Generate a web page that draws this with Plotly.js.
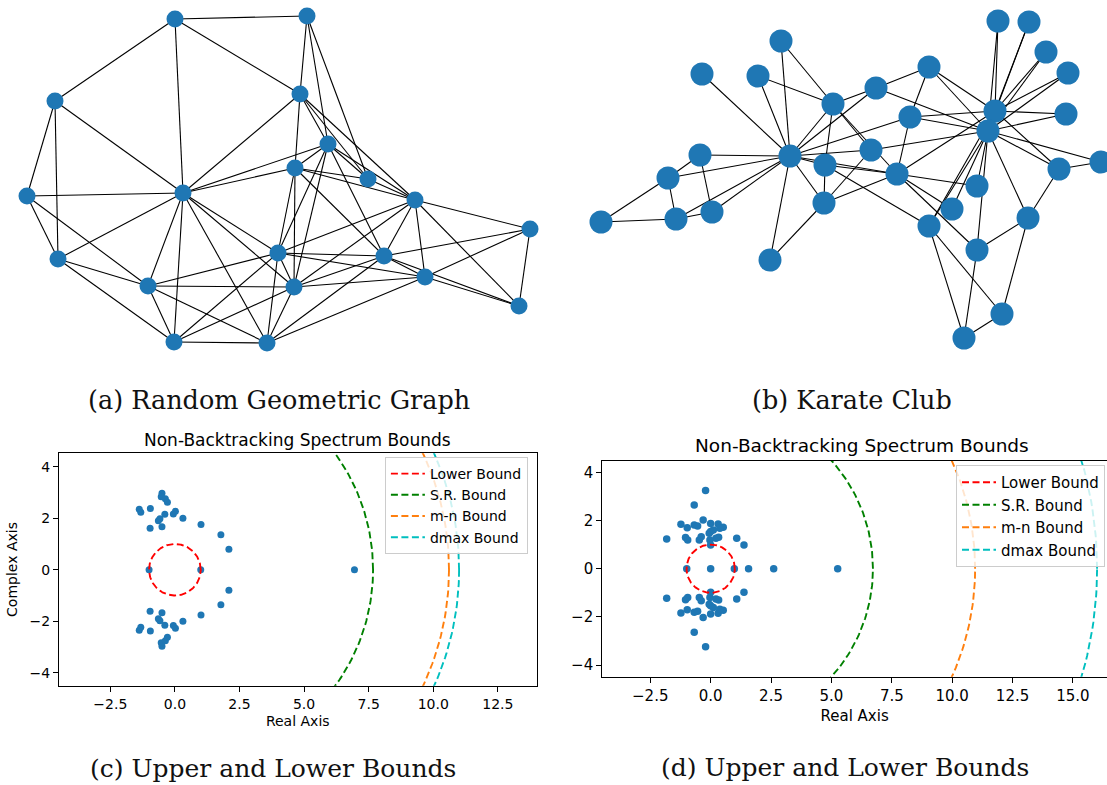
<!DOCTYPE html>
<html>
<head>
<meta charset="utf-8">
<script src="https://cdn.plot.ly/plotly-3.0.1.min.js"></script>
<style>
html,body{margin:0;padding:0;background:#fff;overflow:hidden;}
#chart{width:1107px;height:785px;}
</style>
</head>
<body>
<div id="chart"></div>
<script>
// ---------- (a) Random Geometric Graph : node layout positions ----------
const rggX = [175,307,55,300,328,295,368,183,27,415,530,278,384,58,425,148,294,519,174,267];
const rggY = [19,16,101,94,144,168,179,193,196,200,229,253,256,259,277,286,287,306,342,343];
const rggEdges = [
 [0,1],[0,2],[0,3],[0,7],
 [1,3],[1,4],[1,6],
 [2,8],[2,13],[2,7],
 [8,7],[8,13],[8,15],
 [13,7],[13,15],[13,18],
 [7,3],[7,4],[7,5],[7,15],[7,18],[7,19],[7,16],[7,11],
 [15,11],[15,16],[15,18],[15,19],
 [18,19],[18,11],[18,16],
 [19,11],[19,16],[19,12],[19,14],
 [11,5],[11,4],[11,9],[11,12],[11,14],[11,16],
 [16,5],[16,4],[16,9],[16,12],[16,14],
 [5,3],[5,4],[5,6],[5,9],[5,12],
 [4,3],[4,6],[4,9],[4,12],
 [3,6],[3,9],
 [6,9],
 [9,12],[9,14],[9,10],[9,17],
 [10,12],[10,14],[10,17],
 [12,14],[12,17],
 [14,17]
];

// ---------- (b) Karate Club : node layout positions ----------
const karX = [998,1029,781,1046,702,758,1068,929,876,833,995,1066,910,988,700,790,871,825,1101,1059,668,897,977,824,712,952,601,676,929,1028,977,770,1002,964];
const karY = [21,22,41,52,74,76,73,67,88,104,111,114,117,131,155,156,150,165,162,169,178,174,186,203,212,209,222,219,226,218,250,260,314,338];
const karEdges = [
 [15,4],[15,5],[15,2],[15,9],[15,8],[15,12],[15,16],[15,17],[15,21],[15,14],[15,20],[15,27],[15,24],[15,31],[15,23],
 [2,9],[5,9],
 [9,8],[9,17],[9,21],[9,16],
 [8,7],[8,13],
 [7,12],[7,10],[7,13],
 [12,10],[12,13],[12,21],
 [16,13],[16,23],
 [17,23],[17,21],[17,28],
 [23,21],[23,31],
 [21,10],[21,22],[21,25],[21,30],
 [14,20],[14,24],
 [20,26],[20,27],
 [27,26],[27,24],
 [10,0],[10,1],[10,3],[10,6],[10,11],[10,19],[10,28],[10,13],
 [13,0],[13,1],[13,3],[13,6],[13,11],[13,18],[13,19],[13,29],[13,30],[13,22],[13,25],[13,28],
 [18,19],[19,29],[29,30],[29,32],[30,33],[28,33],[28,32],[32,33]
];

// ---------- (c) spectrum, random geometric graph ----------
const eigReC = [-1.38,-1.32,-0.95,-0.50,-0.53,-0.37,-0.29,-0.39,-0.06,0.02,-0.64,-0.58,-0.96,-0.50,0.31,1.01,1.78,2.09,
                -1.38,-1.32,-0.95,-0.50,-0.53,-0.37,-0.29,-0.39,-0.06,0.02,-0.64,-0.58,-0.96,-0.50,0.31,1.01,1.78,2.09,
                -1.00,1.00,6.95];
const eigImC = [2.35,2.23,2.38,2.97,2.83,2.76,2.62,2.15,2.16,2.27,1.90,1.98,1.61,1.67,2.00,1.76,1.36,0.80,
                -2.35,-2.23,-2.38,-2.97,-2.83,-2.76,-2.62,-2.15,-2.16,-2.27,-1.90,-1.98,-1.61,-1.67,-2.00,-1.76,-1.36,-0.80,
                0,0,0];
const boundNames = ["Lower Bound","S.R. Bound","m-n Bound","dmax Bound"];
const boundColors = ["#ff0000","#008000","#ff7f0e","#00bfbf"];
const boundsC = [1.0, 7.67, 10.61, 11.0];

// ---------- (d) spectrum, karate club ----------
const eigReD = [-0.21,-0.68,-1.23,-0.97,-0.68,-0.54,-0.31,0.00,0.31,0.52,0.38,0.00,-0.06,0.11,0.22,0.33,0.00,-0.03,-1.82,-1.04,-0.95,-0.47,-0.39,1.08,1.38,
                -0.21,-0.68,-1.23,-0.97,-0.68,-0.54,-0.31,0.00,0.31,0.52,0.38,0.00,-0.06,0.11,0.22,0.33,0.00,-0.03,-1.82,-1.04,-0.95,-0.47,-0.39,1.08,1.38,
                -0.99,0.00,0.98,1.57,2.61,5.26];
const eigImD = [3.24,2.64,1.84,1.70,1.81,1.77,2.02,1.88,1.85,1.72,1.68,1.54,1.47,1.61,1.26,1.30,0.98,1.19,1.23,1.29,1.19,1.19,1.33,1.26,0.98,
                -3.24,-2.64,-1.84,-1.70,-1.81,-1.77,-2.02,-1.88,-1.85,-1.72,-1.68,-1.54,-1.47,-1.61,-1.26,-1.30,-0.98,-1.19,-1.23,-1.29,-1.19,-1.19,-1.33,-1.26,-0.98,
                0,0,0,0,0,0];
const boundsD = [1.0, 6.72, 10.95, 16.0];

const xTickVals = [-2.5,0,2.5,5,7.5,10,12.5,15];
const yTickVals = [-4,-2,0,2,4];

// ---------- helpers ----------
const W = 1107, H = 785;
const px = v => v / W;
const py = v => 1 - v / H;
const BLUE = "#1f77b4";

function edgeTrace(xs, ys, edges, xa, ya){
  const ex = [], ey = [];
  edges.forEach(([a,b]) => { ex.push(xs[a], xs[b], null); ey.push(ys[a], ys[b], null); });
  return {type:"scatter", mode:"lines", x:ex, y:ey, xaxis:xa, yaxis:ya,
          line:{color:"#000", width:1.1}, hoverinfo:"skip", showlegend:false};
}
function nodeTrace(xs, ys, size, xa, ya){
  return {type:"scatter", mode:"markers", x:xs, y:ys, xaxis:xa, yaxis:ya,
          marker:{color:BLUE, size:size, line:{width:0}}, showlegend:false, cliponaxis:false};
}
function boundTraces(radii, xa, ya, legend){
  const out = [];
  radii.forEach((r, i) => {
    const cx = [], cy = [];
    for (let k = 0; k <= 360; k++) { const t = k * Math.PI / 180; cx.push(r*Math.cos(t)); cy.push(r*Math.sin(t)); }
    out.push({type:"scatter", mode:"lines", x:cx, y:cy, xaxis:xa, yaxis:ya, name:boundNames[i],
              legend:legend, line:{color:boundColors[i], width:1.9, dash:"7px,3.5px"}, hoverinfo:"skip"});
  });
  return out;
}

const traces = [
  edgeTrace(rggX, rggY, rggEdges, "x", "y"),
  nodeTrace(rggX, rggY, 17, "x", "y"),
  edgeTrace(karX, karY, karEdges, "x2", "y2"),
  nodeTrace(karX, karY, 23, "x2", "y2"),
  {type:"scatter", mode:"markers", x:eigReC, y:eigImC, xaxis:"x3", yaxis:"y3",
   marker:{color:BLUE, size:7}, showlegend:false},
  ...boundTraces(boundsC, "x3", "y3", "legend"),
  {type:"scatter", mode:"markers", x:eigReD, y:eigImD, xaxis:"x4", yaxis:"y4",
   marker:{color:BLUE, size:7.5}, showlegend:false},
  ...boundTraces(boundsD, "x4", "y4", "legend2")
];

const FONT = "DejaVu Sans";
function numAxis(extra, fs){
  return Object.assign({
    showline:true, linecolor:"#000", linewidth:1, showgrid:false, zeroline:false,
    ticks:"outside", ticklen:5, tickwidth:1, tickcolor:"#000",
    tickfont:{family:FONT, size:fs, color:"#000"}, fixedrange:true
  }, extra);
}
const hidden = {visible:false, showgrid:false, zeroline:false, fixedrange:true};

const layout = {
  width:W, height:H, margin:{l:0,r:0,t:0,b:0},
  paper_bgcolor:"#fff", plot_bgcolor:"rgba(0,0,0,0)",
  showlegend:true,
  xaxis: Object.assign({domain:[0, px(560)], range:[0,560], anchor:"y"}, hidden),
  yaxis: Object.assign({domain:[py(370), 1], range:[370,0], anchor:"x"}, hidden),
  xaxis2: Object.assign({domain:[px(560), 1], range:[560,1107], anchor:"y2"}, hidden),
  yaxis2: Object.assign({domain:[py(370), 1], range:[370,0], anchor:"x2"}, hidden),
  xaxis3: numAxis({domain:[px(58.9), px(536.6)], range:[-4.49,14.0], anchor:"y3", mirror:true,
    tickvals:xTickVals, tickformat:".1f",
    title:{text:"Real Axis", font:{family:FONT, size:14, color:"#000"}, standoff:5}}, 14),
  yaxis3: numAxis({domain:[py(685.7), py(453.3)], range:[-4.5,4.52], anchor:"x3", mirror:true,
    tickvals:yTickVals, tickformat:"d",
    title:{text:"Complex Axis", font:{family:FONT, size:14, color:"#000"}, standoff:8}}, 14),
  xaxis4: numAxis({domain:[px(602.2), 1], range:[-4.49,16.41], anchor:"y4", mirror:true,
    tickvals:xTickVals, tickformat:".1f",
    title:{text:"Real Axis", font:{family:FONT, size:15, color:"#000"}, standoff:6}}, 15),
  yaxis4: numAxis({domain:[py(676.7), py(460.7)], range:[-4.48,4.48], anchor:"x4", mirror:false,
    tickvals:yTickVals, tickformat:"d"}, 15),
  legend:{x:px(384.9), y:py(457), xanchor:"left", yanchor:"top", itemwidth:34,
    bgcolor:"rgba(255,255,255,0.8)", bordercolor:"#cccccc", borderwidth:1,
    font:{family:FONT, size:14, color:"#000"}, tracegroupgap:0},
  legend2:{x:px(956), y:py(465), xanchor:"left", yanchor:"top", itemwidth:34,
    bgcolor:"rgba(255,255,255,0.8)", bordercolor:"#cccccc", borderwidth:1,
    font:{family:FONT, size:15, color:"#000"}, tracegroupgap:0},
  annotations:[
    {text:"Non-Backtracking Spectrum Bounds", xref:"paper", yref:"paper", x:px(297.7), y:py(439.5), xanchor:"center", yanchor:"middle",
     showarrow:false, font:{family:FONT, size:17, color:"#000"}},
    {text:"Non-Backtracking Spectrum Bounds", xref:"paper", yref:"paper", x:px(861.8), y:py(445), xanchor:"center", yanchor:"middle",
     showarrow:false, font:{family:FONT, size:18.5, color:"#000"}},
    {text:"(a) Random Geometric Graph", xref:"paper", yref:"paper", x:px(279.2), y:py(400), xanchor:"center", yanchor:"middle",
     showarrow:false, font:{family:"DejaVu Serif", size:25.5, color:"#111"}},
    {text:"(b) Karate Club", xref:"paper", yref:"paper", x:px(851.7), y:py(400), xanchor:"center", yanchor:"middle",
     showarrow:false, font:{family:"DejaVu Serif", size:25.5, color:"#111"}},
    {text:"(c) Upper and Lower Bounds", xref:"paper", yref:"paper", x:px(273.3), y:py(768), xanchor:"center", yanchor:"middle",
     showarrow:false, font:{family:"DejaVu Serif", size:25, color:"#111"}},
    {text:"(d) Upper and Lower Bounds", xref:"paper", yref:"paper", x:px(845), y:py(767), xanchor:"center", yanchor:"middle",
     showarrow:false, font:{family:"DejaVu Serif", size:25, color:"#111"}}
  ]
};

Plotly.newPlot("chart", traces, layout, {staticPlot:true, displayModeBar:false});
</script>
</body>
</html>
